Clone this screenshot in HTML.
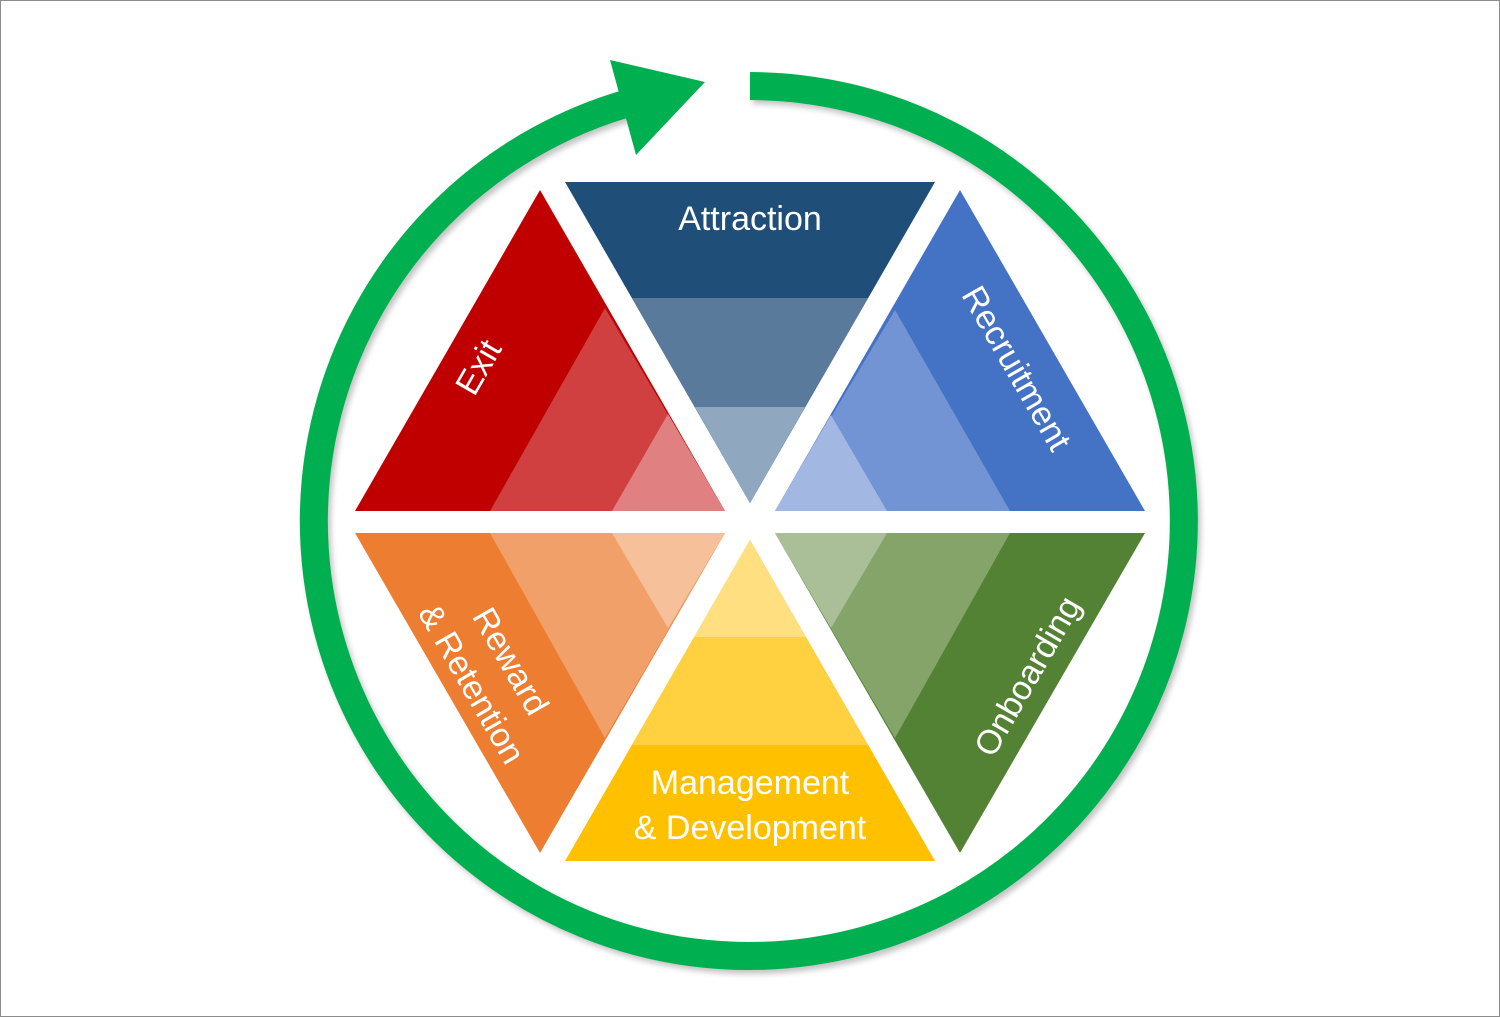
<!DOCTYPE html>
<html><head><meta charset="utf-8"><style>
html,body{margin:0;padding:0;background:#fff}
svg{display:block}
text{font-family:"Liberation Sans",sans-serif;fill:#fff}
</style></head><body>
<svg width="1500" height="1017" viewBox="0 0 1500 1017" xmlns="http://www.w3.org/2000/svg">
<rect x="0.5" y="0.5" width="1499" height="1016" fill="#fff" stroke="#8c8c8c"/>
<defs><filter id="sh" x="-10%" y="-10%" width="120%" height="120%"><feGaussianBlur stdDeviation="3"/></filter></defs>
<g opacity="0.35" filter="url(#sh)" transform="translate(3,4)">
<path d="M750,86 A435,435 0 1 1 625,104" fill="none" stroke="#555" stroke-width="28"/>
</g>
<path d="M750,86 A435,435 0 1 1 625,104" fill="none" stroke="#00B050" stroke-width="28"/>
<polygon points="610,60 705,82 636,155" fill="#00B050"/>

<polygon points="565,182 935,182 750,503" fill="#1F4E79"/>
<polygon points="632,298 868,298 750,503" fill="#5A7A9C"/>
<polygon points="695,407 805,407 750,503" fill="#8FA8C0"/>
<text x="750" y="230" font-size="34" text-anchor="middle">Attraction</text>

<polygon points="960,190 1145,511 775,511" fill="#4472C4"/>
<polygon points="895,310 1010,511 775,511" fill="#7294D4"/>
<polygon points="831,415 887,511 775,511" fill="#A2B8E2"/>
<text transform="translate(1017,368) rotate(60)" font-size="34" text-anchor="middle" dy="12">Recruitment</text>

<polygon points="540,190 725,511 355,511" fill="#C00000"/>
<polygon points="605,308 725,511 490,511" fill="#D04040"/>
<polygon points="668,414 725,511 612,511" fill="#E08080"/>
<text transform="translate(478,367) rotate(-60)" font-size="34" text-anchor="middle" dy="12">Exit</text>

<polygon points="355,533 725,533 540,853" fill="#ED7D31"/>
<polygon points="490,533 725,533 605,738" fill="#F2A06A"/>
<polygon points="612,533 725,533 668,628" fill="#F6C09A"/>
<text transform="translate(492,672) rotate(60)" font-size="34" text-anchor="middle">
<tspan x="0" y="-10">Reward</tspan><tspan x="0" y="35">&amp; Retention</tspan></text>

<polygon points="750,540 935,861 565,861" fill="#FFC000"/>
<polygon points="750,540 868,745 632,745" fill="#FFD040"/>
<polygon points="750,540 806,637 694,637" fill="#FFDF80"/>
<text x="750" y="794" font-size="34" text-anchor="middle">Management</text>
<text x="750" y="839" font-size="34" text-anchor="middle">&amp; Development</text>

<polygon points="775,533 1145,533 960,853" fill="#548235"/>
<polygon points="775,533 1010,533 895,738" fill="#84A46A"/>
<polygon points="775,533 887,533 831,628" fill="#AABF98"/>
<text transform="translate(1027,676) rotate(-60)" font-size="34" text-anchor="middle" dy="12">Onboarding</text>
</svg>
</body></html>
